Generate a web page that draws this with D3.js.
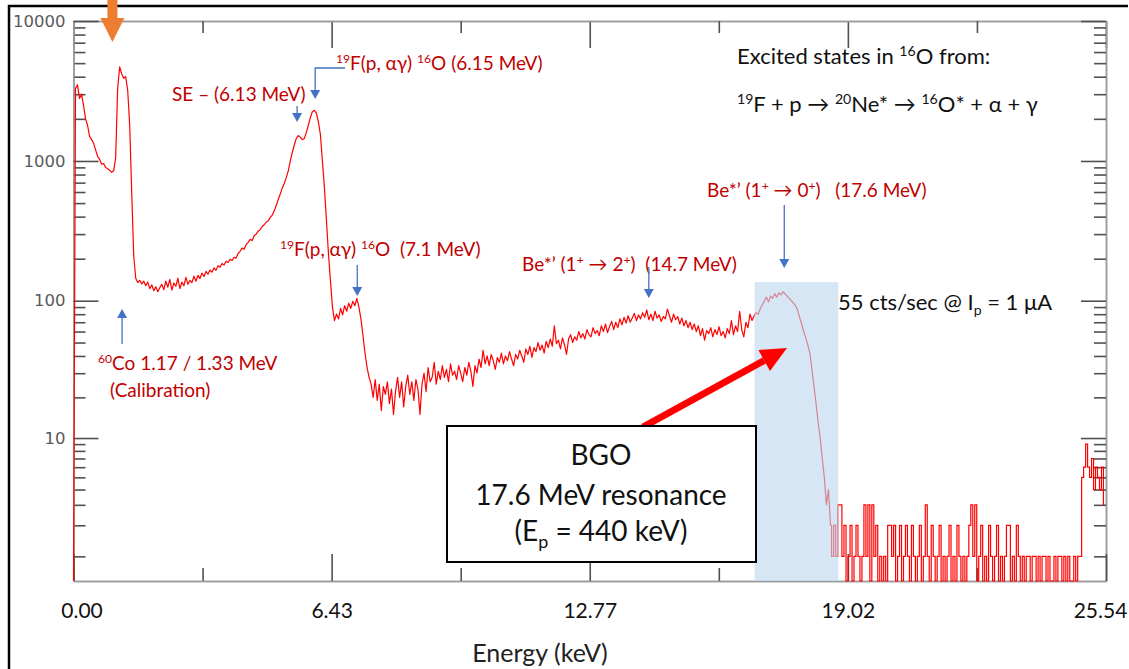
<!DOCTYPE html>
<html>
<head>
<meta charset="utf-8">
<script src="https://cdn.jsdelivr.net/npm/d3@7"></script>
<style>
  body { margin: 0; background: #fff; }
  svg text { white-space: pre; }
</style>
</head>
<body>
<div id="chart"></div>
<script>
const width = 1129
const height = 669
const margin = {top: 21, right: 23, bottom: 88, left: 73.5}
const chartWidth = width - margin.left - margin.right
const chartHeight = height - margin.top - margin.bottom

// energy axis labels (calibration of the MCA is not quite linear)
const energyTicks = [0, 6.43, 12.77, 19.02, 25.54]
const energyTickLabels = ['0.00', '6.43', '12.77', '19.02', '25.54']
const countTicks = [10, 100, 1000, 10000]

// spectrum, one value per 0.05 MeV channel
const energyStep = 0.05
const countsLow = [0, 3300, 3500, 2800, 3000, 2500, 2000, 1800, 1500, 1420,
  1340, 1200, 1080, 1030, 950, 960, 900, 880, 860, 830,
  850, 1050, 3300, 4700, 4200, 3900, 4000, 3200, 1800, 600,
  210, 145, 135, 140, 132, 138, 128, 136, 122, 130]
const countsShelf = [118, 126, 116, 124, 131, 120, 138, 125, 142, 119,
  134, 127, 145, 122, 136, 128, 147, 131, 140, 135,
  150, 138, 152, 144, 158, 149, 162, 155, 166, 160,
  172, 165, 178, 174, 185, 180, 192, 188, 198, 194,
  205, 202, 218, 226, 238, 234, 252, 262, 275, 270,
  292, 300, 315, 322, 340, 350, 366, 372, 395, 410]
const counts6MeV = [440, 480, 530, 580, 640, 690, 760, 850, 1000, 1150,
  1300, 1450, 1520, 1480, 1420, 1450, 1600, 1800, 2050, 2250,
  2300, 2200, 1900, 1550, 1000, 650, 380, 220, 140, 90,
  72, 80, 74, 88, 79, 92, 84, 96, 88, 99,
  92, 104, 90, 74, 56, 42, 33, 28, 25, 20,
  27, 19, 25, 16, 24, 21, 26, 18, 23, 15]
const counts8MeV = [22, 28, 20, 26, 17, 24, 29, 21, 26, 19,
  27, 23, 15, 25, 30, 22, 33, 26, 28, 36,
  25, 31, 27, 34, 28, 32, 26, 35, 29, 31,
  27, 34, 30, 26, 33, 29, 36, 31, 24, 34,
  30, 38, 33, 44, 35, 40, 34, 41, 37, 32,
  39, 36, 42, 35, 40, 37, 43, 38, 34, 41]
const counts11MeV = [38, 44, 40, 36, 45, 41, 47, 39, 46, 43,
  50, 44, 48, 42, 51, 46, 53, 47, 66, 49,
  52, 45, 54, 48, 41, 53, 57, 50, 55, 52,
  60, 54, 58, 53, 62, 57, 55, 64, 58, 61,
  56, 66, 60, 68, 59, 65, 71, 62, 70, 64,
  74, 67, 76, 69, 78, 70, 75, 81, 72, 79]
const counts14MeV = [74, 82, 76, 86, 73, 80, 72, 84, 75, 79,
  71, 77, 74, 87, 78, 70, 80, 73, 77, 68,
  75, 66, 72, 64, 70, 62, 68, 60, 66, 56,
  63, 52, 61, 58, 64, 55, 62, 57, 65, 56,
  60, 54, 63, 58, 72, 57, 66, 60, 84, 62,
  55, 70, 64, 80, 72, 78, 82, 80, 88, 94]
const counts17MeV = [100, 106, 98, 108, 104, 112, 106, 114, 110, 116,
  112, 108, 104, 100, 96, 92, 86, 76, 68, 60,
  54, 48, 42, 32, 24, 18, 13, 10, 7, 5,
  3, 4, 2, 1, 2, 1, 3, 3, 1, 2,
  0, 1, 2, 0, 1, 2, 1, 0, 1, 3,
  1, 3, 0, 3, 1, 2, 0, 1, 0, 1]
const counts20MeV = [0, 2, 2, 1, 2, 0, 1, 2, 0, 1,
  2, 1, 0, 2, 1, 0, 1, 2, 0, 1,
  3, 1, 0, 2, 1, 0, 1, 2, 0, 1,
  0, 1, 2, 0, 1, 0, 2, 1, 0, 1,
  0, 1, 2, 3, 1, 3, 0, 1, 2, 0,
  1, 0, 2, 1, 0, 1, 2, 0, 1, 0]
const counts23MeV = [1, 2, 2, 0, 1, 0, 2, 1, 0, 1,
  0, 1, 1, 0, 1, 1, 0, 1, 0, 1,
  1, 0, 1, 0, 0, 1, 0, 1, 1, 0,
  1, 0, 1, 0, 0, 1, 0, 1, 1, 5,
  6, 9, 6, 5, 7, 4, 6, 5, 4, 6, 3]

const spectrum = [].concat(countsLow, countsShelf, counts6MeV, counts8MeV, counts11MeV,
  counts14MeV, counts17MeV, counts20MeV, counts23MeV)
  .map((c, i) => ({energy: i * energyStep, counts: c}))

// above the 17.6 MeV edge the counts are single digits: draw those as steps
const lowRateFrom = 18.6

const red = '#c00000'
const blue = '#4472c4'

const svg = d3.select('#chart').append('svg')
  .attr('width', width)
  .attr('height', height)

const x = d3.scaleLinear()
  .domain(energyTicks)
  .range(energyTicks.map((d, i) => margin.left + i * chartWidth / (energyTicks.length - 1)))

const y = d3.scaleSymlog()
  .constant(0.5)
  .domain([0.5, 10000])
  .range([margin.top + chartHeight, margin.top])
  .clamp(true)

// outer frame of the slide picture
svg.append('path')
  .attr('d', `M9,669V6H1128`)
  .attr('fill', 'none')
  .attr('stroke', '#000')
  .attr('stroke-width', 2.5)

const minorCounts = []
for (let k = 0; k < 4; k++) {
  for (let m = 1; m < 10; m++) {
    if (m > 1 || k == 0) minorCounts.push(m * Math.pow(10, k))
  }
}
const minorEnergy = energyTicks.slice(1).map((d, i) => (d + energyTicks[i]) / 2)

function drawAxis(axis, transform) {
  const g = svg.append('g').attr('transform', transform).call(axis.tickSizeOuter(0))
  g.select('.domain').attr('stroke', '#9a9a9a').attr('stroke-width', 1.5)
  g.selectAll('.tick line').attr('stroke', '#505050').attr('stroke-width', 1.6)
  return g
}

const bottom = margin.top + chartHeight
const right = margin.left + chartWidth

drawAxis(d3.axisTop(x).tickValues(energyTicks).tickSize(-27).tickFormat(''), `translate(0,${margin.top})`)
drawAxis(d3.axisTop(x).tickValues(minorEnergy).tickSize(-12).tickFormat(''), `translate(0,${margin.top})`)
drawAxis(d3.axisRight(y).tickValues(countTicks).tickSize(-25).tickFormat(''), `translate(${right},0)`)
drawAxis(d3.axisRight(y).tickValues(minorCounts).tickSize(-12).tickFormat(''), `translate(${right},0)`)
drawAxis(d3.axisLeft(y).tickValues(minorCounts).tickSize(-12).tickFormat(''), `translate(${margin.left},0)`)

const yAxis = drawAxis(d3.axisLeft(y).tickValues(countTicks).tickSize(-25).tickPadding(8).tickFormat(d3.format('d')),
  `translate(${margin.left},0)`)
yAxis.selectAll('.tick text')
  .attr('font-family', 'DejaVu Sans, sans-serif')
  .attr('font-size', 16.5)
  .attr('fill', '#5a5a5a')

drawAxis(d3.axisBottom(x).tickValues(minorEnergy).tickSize(-13).tickFormat(''), `translate(0,${bottom})`)
const xAxis = drawAxis(d3.axisBottom(x).tickValues(energyTicks).tickSize(-27).tickPadding(22)
  .tickFormat((d, i) => energyTickLabels[i]), `translate(0,${bottom})`)
xAxis.selectAll('.tick text')
  .attr('font-family', 'Lato, sans-serif')
  .attr('font-size', 21)
  .attr('fill', '#111')
  .attr('dx', (d, i) => i == 0 ? 8 : (i == energyTicks.length - 1 ? -6 : 0))

svg.append('text')
  .attr('x', 540)
  .attr('y', 662)
  .attr('text-anchor', 'middle')
  .attr('font-family', 'Lato, sans-serif')
  .attr('font-size', 25)
  .attr('fill', '#222')
  .text('Energy (keV)')

// spectrum
const line = d3.line()
  .x(d => x(d.energy))
  .y(d => y(d.counts))

const lowRateStart = spectrum.findIndex(d => d.energy >= lowRateFrom)
svg.append('path')
  .datum(spectrum.slice(0, lowRateStart + 1))
  .attr('d', line)
  .attr('fill', 'none')
  .attr('stroke', '#ff0000')
  .attr('stroke-width', 1.2)
  .attr('stroke-linejoin', 'round')

svg.append('path')
  .datum(spectrum.slice(lowRateStart))
  .attr('d', line.curve(d3.curveStep))
  .attr('fill', 'none')
  .attr('stroke', '#ff0000')
  .attr('stroke-width', 1.2)

// 17.6 MeV region highlight (drawn over the trace)
svg.append('rect')
  .attr('x', x(16.76))
  .attr('y', y(136))
  .attr('width', x(18.79) - x(16.76))
  .attr('height', bottom - y(136))
  .attr('fill', '#bdd7ee')
  .attr('opacity', 0.62)

function richText(px, py, parts, size, color, anchor) {
  const t = svg.append('text')
    .attr('x', px)
    .attr('y', py)
    .attr('font-family', 'Lato, sans-serif')
    .attr('font-size', size)
    .attr('fill', color)
    .attr('text-anchor', anchor || 'start')
  let shift = 0
  parts.forEach(([str, kind]) => {
    const target = kind == 'sup' ? -0.36 * size : (kind == 'sub' ? 0.24 * size : 0)
    t.append('tspan')
      .attr('dy', target - shift)
      .attr('font-size', kind ? size * 0.64 : size)
      .text(str)
    shift = target
  })
  return t
}

function blueArrow(points) {
  const tip = points[points.length - 1]
  const prev = points[points.length - 2]
  const dir = Math.sign(tip[1] - prev[1])
  const base = [tip[0], tip[1] - dir * 9]
  svg.append('path')
    .attr('d', d3.line()(points.slice(0, -1).concat([base])))
    .attr('fill', 'none')
    .attr('stroke', blue)
    .attr('stroke-width', 1.3)
  svg.append('path')
    .attr('d', `M${tip[0]},${tip[1]}L${base[0] - 5},${base[1]}L${base[0] + 5},${base[1]}Z`)
    .attr('fill', blue)
}

// peak labels
richText(172, 101, [['SE – (6.13 MeV)']], 19, red)
blueArrow([[x(5.57), 106], [x(5.57), 122]])

richText(336, 70, [['19', 'sup'], ['F(p, αγ) '], ['16', 'sup'], ['O (6.15 MeV)']], 19, red)
blueArrow([[345, 68], [x(6.02), 68], [x(6.02), 99]])

richText(280, 256, [['19', 'sup'], ['F(p, αγ) '], ['16', 'sup'], ['O  (7.1 MeV)']], 19, red)
blueArrow([[x(7.06), 265], [x(7.06), 296]])

richText(522, 271, [['Be*’ (1'], ['+', 'sup'], [' → 2'], ['+', 'sup'], [')  (14.7 MeV)']], 19, red)
blueArrow([[x(14.2), 267], [x(14.2), 298]])

richText(707, 197, [['Be*’ (1'], ['+', 'sup'], [' → 0'], ['+', 'sup'], [')   (17.6 MeV)']], 19, red)
blueArrow([[x(17.48), 205], [x(17.48), 268]])

richText(98, 370, [['60', 'sup'], ['Co 1.17 / 1.33 MeV']], 19, red)
richText(110, 397, [['(Calibration)']], 19, red)
blueArrow([[x(1.21), 344], [x(1.21), 309]])

// orange marker above the calibration peak
const ox = x(0.97)
svg.append('path')
  .attr('d', `M${ox - 5},0H${ox + 5}V18H${ox + 12}L${ox},42L${ox - 12},18H${ox - 5}Z`)
  .attr('fill', '#ed7d31')

// reaction text
richText(737, 64, [['Excited states in '], ['16', 'sup'], ['O from:']], 22, '#111')
richText(737, 112, [['19', 'sup'], ['F + p → '], ['20', 'sup'], ['Ne* → '], ['16', 'sup'], ['O* + α + γ']], 22, '#111')
richText(838, 310, [['55 cts/sec @ I'], ['p', 'sub'], [' = 1 μA']], 22, '#111')

// red pointer to the highlighted peak
const tail = [643, 427]
const head = [787, 348]
const len = Math.hypot(head[0] - tail[0], head[1] - tail[1])
const ux = (head[0] - tail[0]) / len
const uy = (head[1] - tail[1]) / len
const hb = [head[0] - ux * 26, head[1] - uy * 26]
svg.append('line')
  .attr('x1', tail[0]).attr('y1', tail[1])
  .attr('x2', hb[0]).attr('y2', hb[1])
  .attr('stroke', '#ff0000')
  .attr('stroke-width', 7)
svg.append('path')
  .attr('d', `M${head[0]},${head[1]}L${hb[0] - uy * 12},${hb[1] + ux * 12}L${hb[0] + uy * 12},${hb[1] - ux * 12}Z`)
  .attr('fill', '#ff0000')

// text box
svg.append('rect')
  .attr('x', 447)
  .attr('y', 426)
  .attr('width', 309)
  .attr('height', 136)
  .attr('fill', '#fff')
  .attr('stroke', '#000')
  .attr('stroke-width', 2)
richText(601, 465, [['BGO']], 28, '#111', 'middle')
richText(601, 505, [['17.6 MeV resonance']], 28, '#111', 'middle')
richText(601, 541, [['(E'], ['p', 'sub'], [' = 440 keV)']], 28, '#111', 'middle')
</script>
</body>
</html>
